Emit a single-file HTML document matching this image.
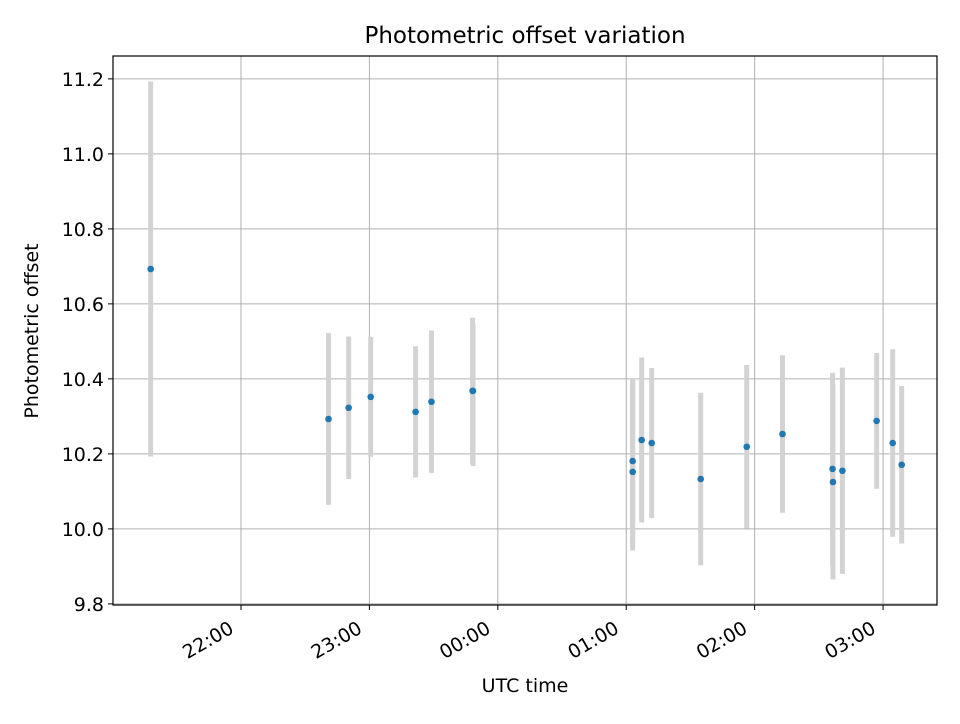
<!DOCTYPE html>
<html><head><meta charset="utf-8"><style>
body{margin:0;background:#fff;font-family:"DejaVu Sans","Liberation Sans",sans-serif}
</style></head><body>
<svg id="chart" width="960" height="720" xmlns="http://www.w3.org/2000/svg" style="font-family:'DejaVu Sans','Liberation Sans',sans-serif">
<rect width="960" height="720" fill="#fff"/>
<g id="grid"></g><g id="marks"></g><g id="axes"></g>
</svg>
<script>
// minutes since 21:00 UTC
const times=[17.8,100.9,110.3,120.6,141.6,149,168.2,168.4,243,243,247.2,251.9,274.8,296.3,313,336.4,336.6,341,357,364.5,368.7];
const values=[10.693,10.293,10.323,10.352,10.312,10.339,10.368,10.368,10.181,10.152,10.237,10.229,10.133,10.219,10.253,10.16,10.125,10.155,10.288,10.229,10.171];
const errUp=[0.5,0.229,0.19,0.16,0.175,0.19,0.195,0.18,0.22,0.25,0.22,0.2,0.23,0.218,0.21,0.256,0.26,0.275,0.181,0.25,0.21];
const errDown=[0.5,0.229,0.19,0.16,0.175,0.19,0.195,0.2,0.22,0.21,0.22,0.2,0.23,0.218,0.21,0.256,0.26,0.275,0.181,0.25,0.21];
const yTicks=[9.8,10.0,10.2,10.4,10.6,10.8,11.0,11.2];
const xTicks=[60,120,180,240,300,360];
const xTickLabels=["22:00","23:00","00:00","01:00","02:00","03:00"];
const L=113,R=937,T=56,B=605,xmin=0.2,xmax=385.2,ymin=9.797,ymax=11.261;
const X=m=>L+(m-xmin)/(xmax-xmin)*(R-L);
const Y=v=>B-(v-ymin)/(ymax-ymin)*(B-T);
const NS="http://www.w3.org/2000/svg";
function mk(tag,attrs,parent){const e=document.createElementNS(NS,tag);for(const k in attrs)e.setAttribute(k,attrs[k]);parent.appendChild(e);return e;}
const grid=document.getElementById('grid'),marks=document.getElementById('marks'),axes=document.getElementById('axes');
yTicks.forEach(v=>{
  const y=Y(v);
  const g=mk('line',{x1:L,x2:R,y1:y,y2:y,stroke:'#b0b0b0','stroke-width':1},grid);
  
  
  mk('line',{x1:L-5,x2:L,y1:y,y2:y,stroke:'#000'},axes);
  const t=mk('text',{x:L-9,y:y+7,'text-anchor':'end','font-size':19},axes);
  t.textContent=v.toFixed(1);
  
  
});
xTicks.forEach((m,i)=>{
  const x=X(m);
  const g=mk('line',{x1:x,x2:x,y1:T,y2:B,stroke:'#b0b0b0','stroke-width':1},grid);
  
  
  mk('line',{x1:x,x2:x,y1:B,y2:B+5,stroke:'#000'},axes);
  const ax=x-6,ay=B+27;
  const t=mk('text',{x:ax,y:ay,'text-anchor':'end','font-size':19,transform:`rotate(-30 ${ax} ${ay})`},axes);
  t.textContent=xTickLabels[i];
  
  
});
times.forEach((m,i)=>{
  const x=X(m);
  const e=mk('line',{x1:x,x2:x,y1:Y(values[i]+errUp[i]),y2:Y(values[i]-errDown[i]),stroke:'#d3d3d3','stroke-width':5},marks);
  
  
});
times.forEach((m,i)=>{
  const c=mk('circle',{cx:X(m),cy:Y(values[i]),r:3.3,fill:'#1f77b4'},marks);
  
  
});
const f=mk('rect',{x:L,y:T,width:R-L,height:B-T,fill:'none',stroke:'#000','stroke-width':1.2},axes);


const tt=mk('text',{x:(L+R)/2,y:43,'text-anchor':'middle','font-size':23},axes);
tt.textContent='Photometric offset variation';


const xl=mk('text',{x:(L+R)/2,y:692,'text-anchor':'middle','font-size':19},axes);
xl.textContent='UTC time';


const yl=mk('text',{x:38,y:331,'text-anchor':'middle','font-size':19,transform:'rotate(-90 38 331)'},axes);
yl.textContent='Photometric offset';


</script>
</body></html>
